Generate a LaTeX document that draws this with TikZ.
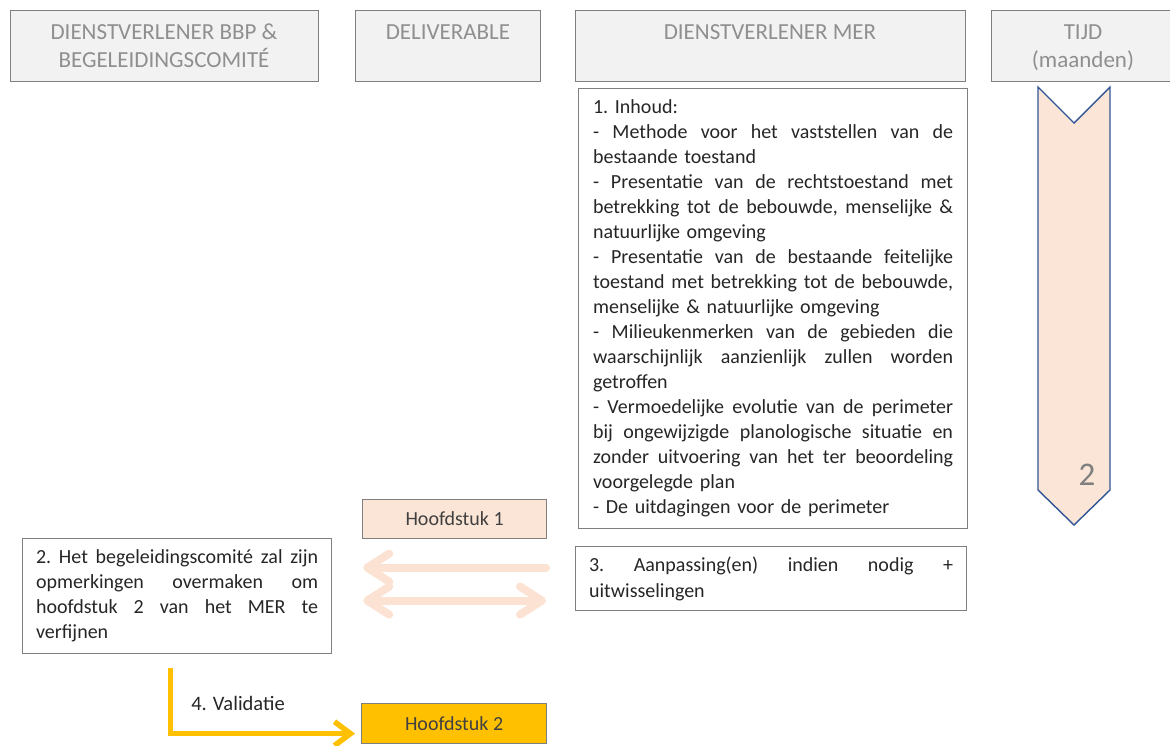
\documentclass[tikz,border=0pt]{standalone}
\usepackage{fontspec}
\setmainfont{Carlito}
\usetikzlibrary{arrows.meta}
\definecolor{hdrfill}{HTML}{F2F2F2}
\definecolor{hdrline}{HTML}{7F7F7F}
\definecolor{hdrtext}{HTML}{8F8F8F}
\definecolor{peach}{HTML}{FBE5D6}
\definecolor{peacharrow}{HTML}{FBE2D2}
\definecolor{gold}{HTML}{FFC000}
\definecolor{navy}{HTML}{2F5597}
\definecolor{txt}{HTML}{262626}
\definecolor{chaptxt}{HTML}{404040}
\newcommand\jline[2]{\hbox to #1{\spaceskip=0.226em plus 20em minus 0.08em\relax #2}\par}
\newcommand\pline[1]{\hbox{#1}\par}
\begin{document}
\begin{tikzpicture}[x=1pt,y=-1pt,
  hdr/.style={draw=hdrline, fill=hdrfill, line width=1.3pt, anchor=north west, inner sep=0pt, minimum height=71pt},
  hdrtxt/.style={text=hdrtext, font=\fontsize{23}{28}\selectfont, anchor=base, inner sep=0pt},
  content/.style={draw=hdrline, fill=white, line width=1.2pt, anchor=north west, inner ysep=0pt, align=left, text=txt},
  chap/.style={draw=hdrline, line width=1.2pt, anchor=north west, inner sep=0pt, text=chaptxt, font=\fontsize{20}{24}\selectfont},
  peachar/.style={draw=peacharrow, line width=8pt, line cap=round},
  goldar/.style={draw=gold, line width=5.5pt},
]
\useasboundingbox (0,0) rectangle (1170,745);

% headers
\node[hdr, minimum width=308pt] (hbbp) at (10,10) {};
\node[hdrtxt] (hbbpA) at (164,39) {DIENSTVERLENER BBP \&};
\node[hdrtxt] (hbbpB) at (164,67) {BEGELEIDINGSCOMITÉ};
\node[hdr, minimum width=185pt] (hdel) at (355,10) {};
\node[hdrtxt] (hdelA) at (448,39) {DELIVERABLE};
\node[hdr, minimum width=390pt] (hmer) at (575,10) {};
\node[hdrtxt] (hmerA) at (770,39) {DIENSTVERLENER MER};
\node[hdr, minimum width=184pt] (htijd) at (991,10) {};
\node[hdrtxt] (htA) at (1083,39) {TIJD};
\node[hdrtxt] (htB) at (1083,67) {(maanden)};

% content box 1
\node[content, minimum width=389pt, minimum height=440pt, text width=360pt, inner xsep=14.5pt,
      font=\fontsize{20}{25}\selectfont\frenchspacing] (c1) at (578,88) {%
\pline{1. Inhoud:}
\jline{360pt}{- Methode voor het vaststellen van de}
\pline{bestaande toestand}
\jline{360pt}{- Presentatie van de rechtstoestand met}
\jline{360pt}{betrekking tot de bebouwde, menselijke \&}
\pline{natuurlijke omgeving}
\jline{360pt}{- Presentatie van de bestaande feitelijke}
\jline{360pt}{toestand met betrekking tot de bebouwde,}
\pline{menselijke \& natuurlijke omgeving}
\jline{360pt}{- Milieukenmerken van de gebieden die}
\jline{360pt}{waarschijnlijk aanzienlijk zullen worden}
\pline{getroffen}
\jline{360pt}{- Vermoedelijke evolutie van de perimeter}
\jline{360pt}{bij ongewijzigde planologische situatie en}
\jline{360pt}{zonder uitvoering van het ter beoordeling}
\pline{voorgelegde plan}
\pline{- De uitdagingen voor de perimeter}};

% box 2
\node[content, minimum width=309pt, minimum height=115pt, text width=282pt, inner xsep=13.5pt,
      font=\fontsize{20}{25}\selectfont\frenchspacing] (c2) at (22,538) {%
\jline{282pt}{2. Het begeleidingscomité zal zijn}
\jline{282pt}{opmerkingen overmaken om}
\jline{282pt}{hoofdstuk 2 van het MER te}
\pline{verfijnen}};

% box 3
\node[content, minimum width=391pt, minimum height=64pt, text width=364pt, inner xsep=13.5pt,
      font=\fontsize{20}{26}\selectfont\frenchspacing] (c3) at (575,546) {%
\jline{364pt}{3. Aanpassing(en) indien nodig +}
\pline{uitwisselingen}};

% chapters
\node[chap, fill=peach, minimum width=184pt, minimum height=39pt] (h1) at (362,499) {Hoofdstuk 1};
\node[chap, fill=gold, minimum width=185pt, minimum height=40pt] (h2) at (361,703) {Hoofdstuk 2};

% peach arrows
\coordinate (a1) at ([yshift=11pt]c3.west);
\coordinate (a2) at ([yshift=-22pt]c3.west);
\draw[peachar, -{Straight Barb[round, length=22pt, width=28pt]}, shorten <=29pt, shorten >=31pt]
  (a1) -- (a1 -| c2.east);
\draw[peachar, {Straight Barb[round, length=22pt, width=28pt]}-{Straight Barb[round, length=22pt, width=28pt]}, shorten <=29pt, shorten >=31pt]
  (a2) -- (a2 -| c2.east);

% gold arrow
\draw[goldar, -{Straight Barb[length=16pt, width=24pt]}, shorten <=14pt, shorten >=6pt]
  ([xshift=-6.5pt]c2.south) |- ([yshift=-10pt]h2.west);
\node[text=txt, font=\fontsize{20.5}{24}\selectfont, inner sep=0pt] (val) at (238,703) {4. Validatie};

% time arrow
\draw[fill=peach, draw=navy, line width=1.4pt, line join=miter]
  (1038,87) -- (1074,123) -- (1110,87) -- (1110,490) -- (1074,525) -- (1038,490) -- cycle;
\node[text=hdrline, font=\fontsize{33}{33}\selectfont, inner sep=0pt] (t2) at (1087,475) {2};
\end{tikzpicture}
\end{document}
